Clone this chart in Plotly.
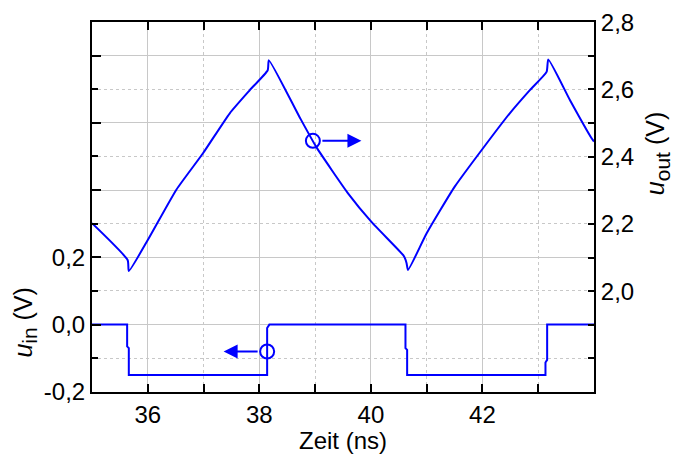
import plotly.graph_objects as go

# Output voltage u_out (right axis), time in ns
t_out = [35.0, 35.64, 35.66, 36.0, 36.51, 36.99, 37.47, 37.83, 38.15, 38.17,
         38.72, 39.02, 39.59, 40.01, 40.58, 40.61, 40.64, 40.665, 41.0, 41.5,
         42.01, 42.49, 42.85, 43.15, 43.18, 43.57, 43.96, 44.0]
u_out = [2.202, 2.092, 2.060, 2.152, 2.301, 2.410, 2.529, 2.598, 2.657, 2.687,
         2.518, 2.429, 2.291, 2.206, 2.107, 2.098, 2.083, 2.063, 2.172, 2.310,
         2.425, 2.529, 2.598, 2.652, 2.689, 2.568, 2.454, 2.445]

# Input voltage u_in (left axis)
t_in = [35.0, 35.63, 35.63, 35.66, 35.66, 38.14, 38.14, 38.18, 40.62, 40.62,
        40.65, 40.65, 43.13, 43.13, 43.16, 43.16, 44.0]
u_in = [0.0, 0.0, -0.065, -0.07, -0.15, -0.15, -0.01, 0.0, 0.0, -0.07,
        -0.075, -0.15, -0.15, -0.113, -0.105, 0.0, 0.0]

# Curve markers with arrows pointing to the matching axis
mark_out = (38.96, 2.447)
arrow_out_tip = 39.83
mark_in = (38.14, -0.08)
arrow_in_tip = 37.36

x_major = [36, 38, 40, 42]
x_minor = [37, 39, 41, 43]
yl_major = [-0.2, 0.0, 0.2, 0.4, 0.6, 0.8]
yl_text = ["-0,2", "0,0", "0,2", "", "", ""]
yl_minor = [-0.1, 0.1, 0.3, 0.5, 0.7]
yr_ticks = [1.8, 1.9, 2.0, 2.1, 2.2, 2.3, 2.4, 2.5, 2.6, 2.7, 2.8]
yr_text = ["", "", "2,0", "", "2,2", "", "2,4", "", "2,6", "", "2,8"]

BLUE = "#0000ff"
GRID = "#c8c8c8"
FONT = dict(family="Liberation Sans, Arial, sans-serif", size=24, color="black")
TITLE_FONT = dict(family="Liberation Sans, Arial, sans-serif", size=25, color="black")

fig = go.Figure()
fig.add_trace(go.Scatter(x=t_in, y=u_in, mode="lines",
                         line=dict(color=BLUE, width=2), yaxis="y"))
fig.add_trace(go.Scatter(x=t_out, y=u_out, mode="lines",
                         line=dict(color=BLUE, width=2, shape="spline", smoothing=0.5),
                         yaxis="y2"))
fig.add_trace(go.Scatter(x=[mark_in[0]], y=[mark_in[1]], mode="markers", yaxis="y",
                         marker=dict(symbol="circle-open", size=14,
                                     line=dict(color=BLUE, width=2), color=BLUE)))
fig.add_trace(go.Scatter(x=[mark_out[0]], y=[mark_out[1]], mode="markers", yaxis="y2",
                         marker=dict(symbol="circle-open", size=14,
                                     line=dict(color=BLUE, width=2), color=BLUE)))

arrow_style = dict(text="", showarrow=True, arrowhead=2, arrowsize=1.4,
                   arrowwidth=2, arrowcolor=BLUE, startstandoff=8, standoff=0)
fig.add_annotation(x=arrow_out_tip, y=mark_out[1], xref="x", yref="y2",
                   ax=mark_out[0], ay=mark_out[1], axref="x", ayref="y2", **arrow_style)
fig.add_annotation(x=arrow_in_tip, y=mark_in[1], xref="x", yref="y",
                   ax=mark_in[0], ay=mark_in[1], axref="x", ayref="y", **arrow_style)

# Axis titles
SUB = '<sub><span style="font-size:21px">{}</span></sub>'
fig.add_annotation(text="<i>u</i>" + SUB.format("in") + " (V)", xref="paper", yref="paper",
                   x=-0.17, y=0.088, textangle=-90, showarrow=False, font=TITLE_FONT)
fig.add_annotation(text="<i>u</i>" + SUB.format("out") + " (V)", xref="paper", yref="paper",
                   x=1.163, y=0.645, textangle=-90, showarrow=False, font=TITLE_FONT)
fig.add_annotation(text="Zeit (ns)", xref="paper", yref="paper",
                   x=0.5, y=-0.13, yanchor="middle", showarrow=False, font=FONT)

fig.update_layout(
    width=674, height=456,
    margin=dict(l=92, r=80, t=22, b=64, autoexpand=False),
    paper_bgcolor="white", plot_bgcolor="white",
    showlegend=False, font=FONT,
    xaxis=dict(
        range=[35, 44], tickmode="array", tickvals=x_major, automargin=False,
        ticks="inside", ticklen=8, tickwidth=2, tickcolor="black",
        showline=True, linecolor="black", linewidth=2, mirror="allticks",
        showgrid=True, gridcolor=GRID, gridwidth=1, zeroline=False,
        minor=dict(tickmode="array", tickvals=x_minor, ticks="inside", ticklen=4,
                   tickwidth=1.5, tickcolor="black", showgrid=True,
                   gridcolor=GRID, gridwidth=1, griddash="3px,3px"),
    ),
    yaxis=dict(
        range=[-0.2005, 0.9], tickmode="array", tickvals=yl_major, ticktext=yl_text,
        automargin=False,
        ticks="inside", ticklen=9, tickwidth=2, tickcolor="black",
        showline=True, linecolor="black", linewidth=2,
        showgrid=True, gridcolor=GRID, gridwidth=1, zeroline=False,
        minor=dict(tickmode="array", tickvals=yl_minor, ticks="inside", ticklen=6,
                   tickwidth=1.5, tickcolor="black", showgrid=True,
                   gridcolor=GRID, gridwidth=1, griddash="3px,3px"),
    ),
    yaxis2=dict(
        overlaying="y", side="right", automargin=False,
        range=[1.7, 2.8005], tickmode="array", tickvals=yr_ticks, ticktext=yr_text,
        ticks="inside", ticklen=6, tickwidth=2, tickcolor="black",
        showline=True, linecolor="black", linewidth=2,
        showgrid=False, zeroline=False,
    ),
)

fig.write_html("out.html")
